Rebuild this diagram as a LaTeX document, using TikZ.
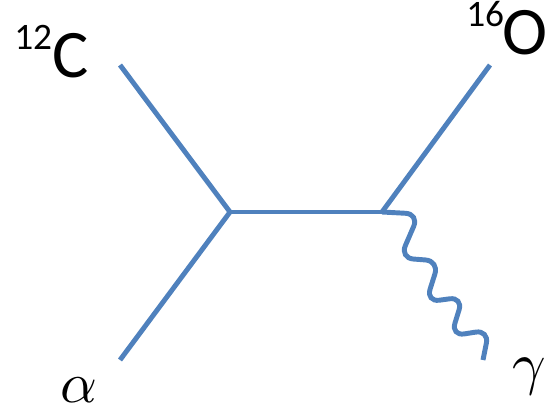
\documentclass[tikz,border=0pt]{standalone}
\usepackage{graphicx}
\usepackage{fontspec}
\setmainfont{Carlito}
\definecolor{lineblue}{RGB}{79,129,189}
\begin{document}
\begin{tikzpicture}[x=0.75pt,y=-0.75pt,
  leg/.style={draw=lineblue,line width=3.7pt},
  lbl/.style={inner sep=0pt,anchor=base west,font=\fontsize{51}{51}\selectfont},
  glbl/.style={inner sep=0pt,anchor=base west}]
\useasboundingbox (0,0) rectangle (548,414);
\coordinate (v1) at (230,212);
\coordinate (v2) at (382,212);
\coordinate (c) at (120,65);
\coordinate (a) at (120,360);
\coordinate (o) at (490,65);
\coordinate (g) at (483,360);
\draw[leg] (c) -- (v1);
\draw[leg] (a) -- (v1);
\draw[leg] (v1) -- (v2);
\draw[leg] (v2) -- (o);
\draw[leg,rounded corners=10pt] (v2) -- (419,214) -- (400,258) -- (439,261) -- (426,302) -- (463,297) -- (451,336) -- (489,330) -- (g);
\node[lbl] (lc) at (14,77) {\raisebox{21pt}{\fontsize{28}{28}\selectfont 12}C};
\node[lbl] (lo) at (466,54) {\raisebox{21pt}{\fontsize{28}{28}\selectfont 16}\kern-1pt O};
\node[glbl] (la) at (60,402) {\scalebox{4.3}{$\alpha$}};
\node[glbl] (lg) at (512,383) {\scalebox{4.4}{$\gamma$}};
\end{tikzpicture}
\end{document}
